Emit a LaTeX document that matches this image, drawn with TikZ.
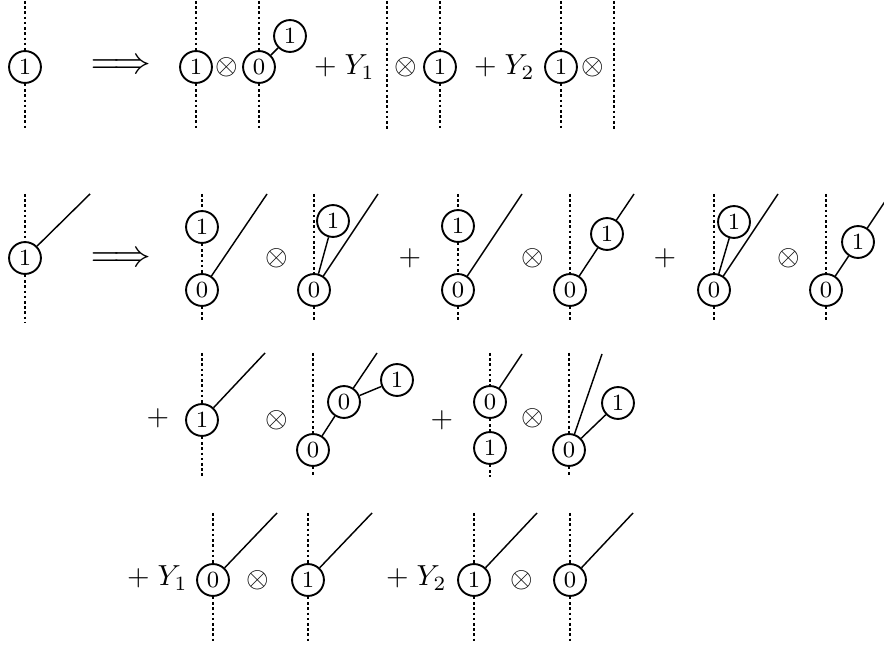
\documentclass[tikz,border=0pt]{standalone}

\tikzset{
  bead/.style={circle, draw, line width=0.65pt, minimum size=11pt, inner sep=0pt, font=\footnotesize},
  leg/.style={line width=0.5pt},
  spine/.style={line width=0.6pt, dash pattern=on 0.9pt off 0.9pt},
  sym/.style={inner sep=0pt},
  arr/.style={inner sep=0pt},
}

\begin{document}
\begin{tikzpicture}[x=0.345pt, y=-0.345pt]
    \useasboundingbox (0,0) rectangle (884,645);

    % Spine levels of the four rows
    \coordinate (top1) at (0,1);   \coordinate (bot1) at (0,129);
    \coordinate (top2) at (0,194); \coordinate (bot2) at (0,322);
    \coordinate (top3) at (0,353); \coordinate (bot3) at (0,477);
    \coordinate (top4) at (0,513); \coordinate (bot4) at (0,642);

    % Row 1 - single vertex
    \node[bead] (p) at (25,67) {1};
    \draw[spine] (p |- top1) -- (p) -- (p |- bot1);
    \node[arr] (imp1) at (121,67) {\scalebox{1.3}{$\Longrightarrow$}};

    \node[bead] (q1) at (196,67) {1};
    \draw[spine] (q1 |- top1) -- (q1) -- (q1 |- bot1);
    \node[sym] (ot1) at (227,67) {$\otimes$};
    \node[bead] (q2) at (259,67) {0};
    \node[bead] (q3) at (290,36) {1};
    \draw[spine] (q2 |- top1) -- (q2) -- (q2 |- bot1);
    \draw[leg] (q2) -- (q3);

    \node[sym, anchor=west] (y1a) at (313.5,67) {$+\;Y_1$};
    \coordinate (s1) at (387,1);
    \draw[spine] (s1) -- (s1 |- bot1);
    \node[sym] (ot2) at (406,67) {$\otimes$};
    \node[bead] (q4) at (440,67) {1};
    \draw[spine] (q4 |- top1) -- (q4) -- (q4 |- bot1);

    \node[sym, anchor=west] (y2a) at (473.5,67) {$+\;Y_2$};
    \node[bead] (q5) at (561,67) {1};
    \draw[spine] (q5 |- top1) -- (q5) -- (q5 |- bot1);
    \node[sym] (ot3) at (593,67) {$\otimes$};
    \coordinate (s2) at (614,1);
    \draw[spine] (s2) -- (s2 |- bot1);

    % Row 2 - vertex with a leg
    \node[bead] (r) at (25,258) {1};
    \coordinate (rtip) at (90,194);
    \draw[spine] (r |- top2) -- (r) -- (r |- bot2);
    \draw[leg] (r) -- (rtip);
    \node[arr] (imp2) at (121,260) {\scalebox{1.3}{$\Longrightarrow$}};

    \node[bead] (a1) at (202,227) {1};
    \node[bead] (a0) at (202,290) {0};
    \coordinate (atip) at (267,194);
    \draw[spine] (a1 |- top2) -- (a1) -- (a0) -- (a0 |- bot2);
    \draw[leg] (a0) -- (atip);
    \node[sym] (ot4) at (277,258) {$\otimes$};

    \node[bead] (b0) at (314,290) {0};
    \node[bead] (b1) at (333,221) {1};
    \coordinate (btip) at (378,194);
    \draw[spine] (b0 |- top2) -- (b0) -- (b0 |- bot2);
    \draw[leg] (b0) -- (b1);
    \draw[leg] (b0) -- (btip);
    \node[sym] (pl1) at (410,258) {$+$};

    \node[bead] (c1) at (458,226) {1};
    \node[bead] (c0) at (458,290) {0};
    \coordinate (ctip) at (522,194);
    \draw[spine] (c1 |- top2) -- (c1) -- (c0) -- (c0 |- bot2);
    \draw[leg] (c0) -- (ctip);
    \node[sym] (ot5) at (533,258) {$\otimes$};

    \node[bead] (d0) at (570,290) {0};
    \node[bead] (d1) at (607,234) {1};
    \coordinate (dtip) at (634,194);
    \draw[spine] (d0 |- top2) -- (d0) -- (d0 |- bot2);
    \draw[leg] (d0) -- (d1);
    \draw[leg] (d1) -- (dtip);
    \node[sym] (pl2) at (665,258) {$+$};

    \node[bead] (e0) at (714,290) {0};
    \node[bead] (e1) at (734,222) {1};
    \coordinate (etip) at (778,194);
    \draw[spine] (e0 |- top2) -- (e0) -- (e0 |- bot2);
    \draw[leg] (e0) -- (e1);
    \draw[leg] (e0) -- (etip);
    \node[sym] (ot6) at (789,258) {$\otimes$};

    \node[bead] (f0) at (826,290) {0};
    \node[bead] (f1) at (858,242) {1};
    \coordinate (ftip) at (890,194);
    \draw[spine] (f0 |- top2) -- (f0) -- (f0 |- bot2);
    \draw[leg] (f0) -- (f1);
    \draw[leg] (f1) -- (ftip);

    % Row 3
    \node[sym] (pl3) at (158,418) {$+$};
    \node[bead] (g) at (202,420) {1};
    \coordinate (gtip) at (265,353);
    \draw[spine] (g |- top3) -- (g) -- (g |- bot3);
    \draw[leg] (g) -- (gtip);
    \node[sym] (ot7) at (277,420) {$\otimes$};

    \node[bead] (h0) at (313,450) {0};
    \node[bead] (hm) at (344,402) {0};
    \node[bead] (h1) at (397,380) {1};
    \coordinate (htip) at (377,353);
    \draw[spine] (h0 |- top3) -- (h0) -- (h0 |- bot3);
    \draw[leg] (h0) -- (hm);
    \draw[leg] (hm) -- (htip);
    \draw[leg] (hm) -- (h1);
    \node[sym] (pl4) at (442,420) {$+$};

    \node[bead] (i0) at (490,402) {0};
    \node[bead] (i1) at (490,448) {1};
    \coordinate (itip) at (522,354);
    \draw[spine] (i0 |- top3) -- (i0) -- (i1) -- (i1 |- bot3);
    \draw[leg] (i0) -- (itip);
    \node[sym] (ot8) at (533,418) {$\otimes$};

    \node[bead] (j0) at (569,450) {0};
    \node[bead] (j1) at (618,403) {1};
    \coordinate (jtip) at (602,354);
    \draw[spine] (j0 |- top3) -- (j0) -- (j0 |- bot3);
    \draw[leg] (j0) -- (j1);
    \draw[leg] (j0) -- (jtip);

    % Row 4
    \node[sym, anchor=west] (y1b) at (126.5,578) {$+\;Y_1$};
    \node[bead] (k) at (213,580) {0};
    \coordinate (ktip) at (277,513);
    \draw[spine] (k |- top4) -- (k) -- (k |- bot4);
    \draw[leg] (k) -- (ktip);
    \node[sym] (ot9) at (258,580) {$\otimes$};
    \node[bead] (l) at (308,580) {1};
    \coordinate (ltip) at (372,513);
    \draw[spine] (l |- top4) -- (l) -- (l |- bot4);
    \draw[leg] (l) -- (ltip);

    \node[sym, anchor=west] (y2b) at (385.5,578) {$+\;Y_2$};
    \node[bead] (m) at (474,580) {1};
    \coordinate (mtip) at (537,513);
    \draw[spine] (m |- top4) -- (m) -- (m |- bot4);
    \draw[leg] (m) -- (mtip);
    \node[sym] (ot10) at (522,580) {$\otimes$};
    \node[bead] (n) at (570,580) {0};
    \coordinate (ntip) at (633,513);
    \draw[spine] (n |- top4) -- (n) -- (n |- bot4);
    \draw[leg] (n) -- (ntip);
\end{tikzpicture}
\end{document}
